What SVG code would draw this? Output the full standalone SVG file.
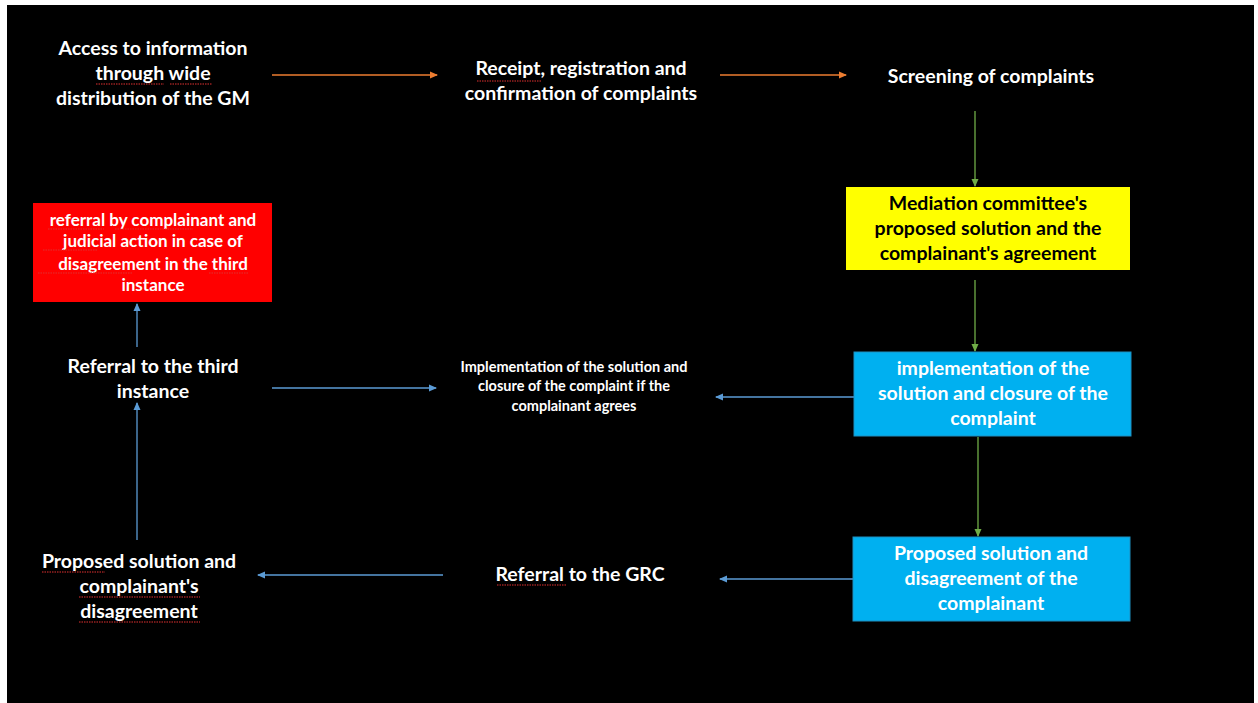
<svg xmlns="http://www.w3.org/2000/svg" width="1258" height="703" viewBox="0 0 1258 703">
<defs>
<marker id="ao" markerWidth="8" markerHeight="8" refX="7" refY="4" orient="auto" markerUnits="userSpaceOnUse"><path d="M0,0.5 L8,4 L0,7.5 Z" fill="#ED7D31"/></marker>
<marker id="ag" markerWidth="8" markerHeight="8" refX="7" refY="4" orient="auto" markerUnits="userSpaceOnUse"><path d="M0,0.5 L8,4 L0,7.5 Z" fill="#70AD47"/></marker>
<marker id="ab" markerWidth="8" markerHeight="8" refX="7" refY="4" orient="auto" markerUnits="userSpaceOnUse"><path d="M0,0.5 L8,4 L0,7.5 Z" fill="#5B9BD5"/></marker>
</defs>
<style>
text{font-family:Lato,"Liberation Sans",sans-serif;font-weight:bold;text-anchor:middle}
.w{fill:#fff;font-size:19.5px}
.k{fill:#000;font-size:19.5px}
.s{fill:#fff;font-size:17px}
.t{fill:#fff;font-size:14.5px}
.o{stroke:#ED7D31;stroke-width:1.3;fill:none;marker-end:url(#ao)}
.g{stroke:#70AD47;stroke-width:1.3;fill:none;marker-end:url(#ag)}
.b{stroke:#5B9BD5;stroke-width:1.3;fill:none;marker-end:url(#ab)}
.sq{stroke:#E03030;stroke-width:1.2;stroke-dasharray:1.5 1;fill:none}
</style>
<rect x="0" y="0" width="1258" height="703" fill="#fff"/>
<rect x="7" y="5" width="1247" height="698" fill="#000"/>
<g id="connectors">
<line class="o" x1="272" y1="75" x2="437" y2="75"/>
<line class="o" x1="720" y1="75" x2="846" y2="75"/>
<line class="g" x1="975" y1="111" x2="975" y2="186"/>
<line class="g" x1="975" y1="280" x2="975" y2="351"/>
<line class="g" x1="978" y1="437" x2="978" y2="536"/>
<line class="b" x1="853" y1="579" x2="720" y2="579"/>
<line class="b" x1="443" y1="575" x2="258" y2="575"/>
<line class="b" x1="137" y1="540" x2="137" y2="403"/>
<line class="b" x1="137" y1="347" x2="137" y2="304"/>
<line class="b" x1="272" y1="388" x2="436" y2="388"/>
<line class="b" x1="854" y1="397" x2="716" y2="397"/>
</g>
<g id="n-access">
<text class="w" x="153" y="55">Access to information</text>
<text class="w" x="153" y="80">through wide</text>
<text class="w" x="153" y="105">distribution of the GM</text>
<path class="sq" d="M96,84 H164 M170,84 H212"/>
</g>
<g id="n-receipt">
<text class="w" x="581" y="75">Receipt, registration and</text>
<text class="w" x="581" y="100">confirmation of complaints</text>
<path class="sq" d="M477,81 H541"/>
</g>
<g id="n-screening">
<text class="w" x="991" y="83">Screening of complaints</text>
</g>
<g id="n-mediation">
<rect x="846" y="187" width="284" height="83" fill="#FFFF00"/>
<text class="k" x="988" y="210">Mediation committee's</text>
<text class="k" x="988" y="235">proposed solution and the</text>
<text class="k" x="988" y="260">complainant's agreement</text>
</g>
<g id="n-implementation">
<rect x="854" y="352" width="277" height="84" fill="#00B0F0" stroke="#1F8FC0" stroke-width="1"/>
<text class="w" x="993" y="375">implementation of the</text>
<text class="w" x="993" y="400">solution and closure of the</text>
<text class="w" x="993" y="425">complaint</text>
</g>
<g id="n-disagreement">
<rect x="853" y="537" width="277" height="84" fill="#00B0F0" stroke="#1F8FC0" stroke-width="1"/>
<text class="w" x="991" y="560">Proposed solution and</text>
<text class="w" x="991" y="585">disagreement of the</text>
<text class="w" x="991" y="610">complainant</text>
</g>
<g id="n-grc">
<text class="w" x="580" y="581">Referral to the GRC</text>
<path class="sq" d="M497,585 H566"/>
</g>
<g id="n-proposed">
<text class="w" x="139" y="568">Proposed solution and</text>
<text class="w" x="139" y="593">complainant's</text>
<text class="w" x="139" y="618">disagreement</text>
<path class="sq" d="M42,572 H105 M79,597 H200 M79,622 H200"/>
</g>
<g id="n-third">
<text class="w" x="153" y="373">Referral to the third</text>
<text class="w" x="153" y="398">instance</text>
</g>
<g id="n-judicial">
<rect x="33" y="203" width="239" height="99" fill="#FF0000"/>
<text class="s" x="153" y="226">referral by complainant and</text>
<text class="s" x="153" y="247">judicial action in case of</text>
<text class="s" x="153" y="270">disagreement in the third</text>
<text class="s" x="153" y="291">instance</text>
<path class="sq" d="M48,229 H104 M115,229 H193 M43,250 H98 M38,273 H133 M209,273 H248"/>
</g>
<g id="n-closure">
<text class="t" x="574" y="372">Implementation of the solution and</text>
<text class="t" x="574" y="391">closure of the complaint if the</text>
<text class="t" x="574" y="411">complainant agrees</text>
</g>
</svg>
